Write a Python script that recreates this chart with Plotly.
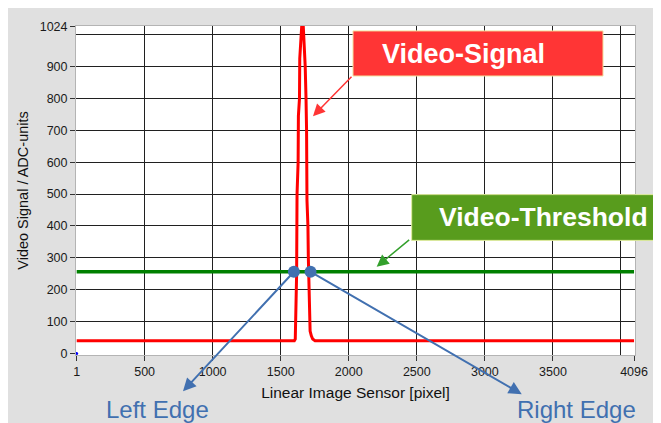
import plotly.graph_objects as go

# ---- data ----
signal_x = [1, 1600, 1607, 1617, 1620, 1628, 1630, 1638, 1640, 1648, 1654, 1666, 1671, 1680,
            1686, 1690, 1693, 1700, 1703, 1708, 1710, 1716, 1725, 1735, 1752, 4096]
signal_y = [40, 40, 45, 250, 500, 600, 745, 800, 925, 1000, 1024, 1024, 985, 900,
            800, 700, 480, 400, 300, 200, 100, 70, 55, 45, 40, 40]
threshold_x = [1, 4096]
threshold_y = [256, 256]
edge_names = ["Left Edge", "Right Edge"]
edge_x = [1597, 1719]
edge_y = [256, 256]

x_tick_vals = [1, 500, 1000, 1500, 2000, 2500, 3000, 3500, 4096]
x_tick_text = ["1", "500", "1000", "1500", "2000", "2500", "3000", "3500", "4096"]
x_grid_vals = [500, 1000, 1500, 2000, 2500, 3000, 3500, 4000]
y_tick_vals = [0, 100, 200, 300, 400, 500, 600, 700, 800, 900, 1024]
y_tick_text = ["0", "100", "200", "300", "400", "500", "600", "700", "800", "900", "1024"]
y_grid_vals = [100, 200, 300, 400, 500, 600, 700, 800, 900, 1000]

X_RANGE = [-4, 4103]
Y_RANGE = [-5, 1027]

FONT = "Liberation Sans, Arial, sans-serif"
BLUE = "#4170b0"

fig = go.Figure()
fig.add_trace(go.Scatter(x=signal_x, y=signal_y, mode="lines",
                         line=dict(color="#ff0000", width=3), showlegend=False, hoverinfo="skip"))
fig.add_trace(go.Scatter(x=threshold_x, y=threshold_y, mode="lines",
                         line=dict(color="#008000", width=3.5), showlegend=False, hoverinfo="skip"))
fig.add_trace(go.Scatter(x=edge_x, y=edge_y, mode="markers",
                         marker=dict(color=BLUE, size=12), showlegend=False, hoverinfo="skip"))
# label axes carrier (tiny blue dot at origin as in the original)
fig.add_trace(go.Scatter(x=[x_tick_vals[0]], y=[y_tick_vals[0]], xaxis="x2", yaxis="y2",
                         mode="markers", marker=dict(color="#0000ff", size=3),
                         showlegend=False, hoverinfo="skip"))

grid_common = dict(showgrid=True, gridcolor="#202020", gridwidth=1, zeroline=False,
                   showline=True, linecolor="#b4b4b4", linewidth=1, mirror=True,
                   showticklabels=False, ticks="")
# page body has an 8px margin, so the figure is sized to fit the 661x423 window
fig.update_layout(
    width=653, height=415,
    margin=dict(l=68, r=26, t=12, b=68),
    paper_bgcolor="#e0e0e0", plot_bgcolor="white",
    font=dict(family=FONT, color="#1a1a1a"),
    xaxis=dict(range=X_RANGE, tickmode="array", tickvals=x_grid_vals, **grid_common),
    yaxis=dict(range=Y_RANGE, tickmode="array", tickvals=y_grid_vals, **grid_common),
    xaxis2=dict(range=X_RANGE, overlaying="x", side="bottom", tickmode="array",
                tickvals=x_tick_vals, ticktext=x_tick_text, showgrid=False, zeroline=False,
                ticks="outside", ticklen=5, tickcolor="#333333", tickfont=dict(size=12.5),
                title=dict(text="Linear Image Sensor [pixel]", font=dict(size=15.5, color="#111111"),
                           standoff=9)),
    yaxis2=dict(range=Y_RANGE, overlaying="y", side="left", tickmode="array",
                tickvals=y_tick_vals, ticktext=y_tick_text, showgrid=False, zeroline=False,
                ticks="outside", ticklen=5, tickcolor="#333333", tickfont=dict(size=12.5),
                title=dict(text="Video Signal / ADC-units", font=dict(size=14.5, color="#111111"),
                           standoff=7)),
)

# Video-Signal box
fig.add_shape(type="rect", xref="paper", yref="paper", x0=0.4955, x1=0.9428, y0=0.848, y1=0.985,
              fillcolor="#ff3535", line=dict(color="#f3e3a0", width=1))
fig.add_annotation(xref="paper", yref="paper", x=0.5438, y=0.9164, xanchor="left", yanchor="middle",
                   text="<b>Video-Signal</b>", showarrow=False,
                   font=dict(size=27, color="white", family=FONT))
# Video-Threshold box
fig.add_shape(type="rect", xref="paper", yref="paper", x0=0.6005, x1=1.06, y0=0.3484, y1=0.4875,
              fillcolor="#589c1d", line=dict(color="#e0eca0", width=1))
fig.add_annotation(xref="paper", yref="paper", x=0.6453, y=0.418, xanchor="left", yanchor="middle",
                   text="<b>Video-Threshold</b>", showarrow=False,
                   font=dict(size=26.5, color="white", family=FONT))

# arrows to the curves
fig.add_annotation(x=1737, y=744, ax=40, ay=-41, text="", showarrow=True,
                   arrowhead=2, arrowsize=1.6, arrowwidth=1.5, arrowcolor="#ff3535")
fig.add_annotation(x=2205, y=272, ax=34, ay=-28, text="", showarrow=True,
                   arrowhead=2, arrowsize=1.6, arrowwidth=1.5, arrowcolor="#33a02c")

# edge arrows and labels
edge_tips = [(782, -119), (3271, -128)]
edge_label_x = [0.1458, 0.8957]
for name, ex, ey, (tx, ty), lx in zip(edge_names, edge_x, edge_y, edge_tips, edge_label_x):
    fig.add_annotation(x=tx, y=ty, ax=ex, ay=ey, axref="x", ayref="y", text="", showarrow=True,
                       arrowhead=2, arrowsize=1.3, arrowwidth=2, arrowcolor=BLUE)
    fig.add_annotation(xref="paper", yref="paper", x=lx, y=-0.167, text=name, showarrow=False,
                       xanchor="center", yanchor="middle", font=dict(size=24, color=BLUE, family=FONT))

fig.write_html("out.html")
